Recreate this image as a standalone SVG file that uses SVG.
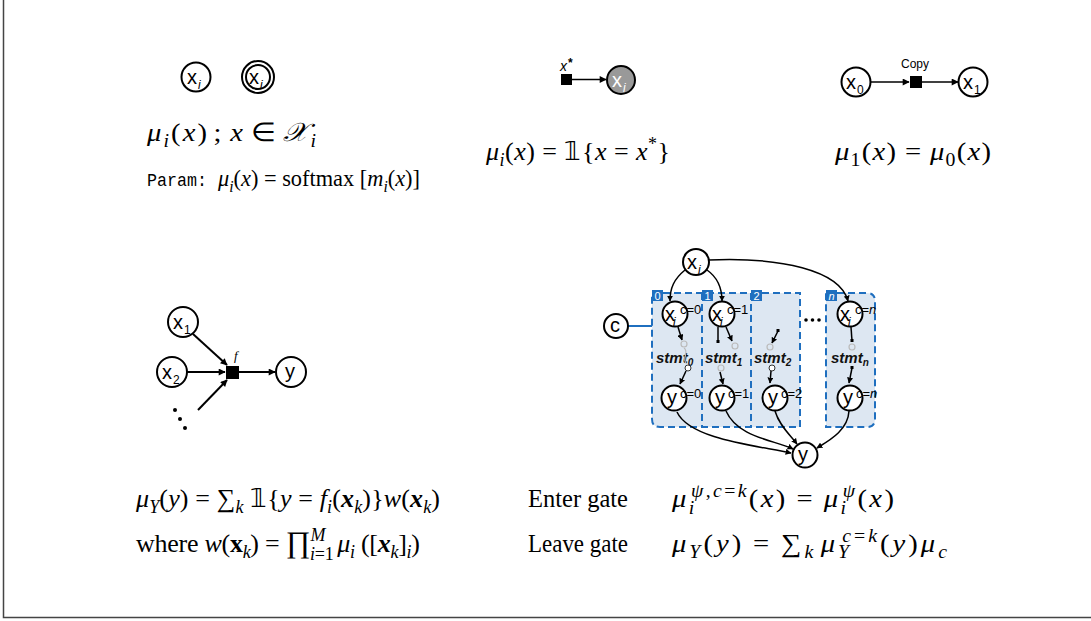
<svg xmlns="http://www.w3.org/2000/svg" width="1091" height="621" viewBox="0 0 1091 621">
<style>
.m{font-family:"Liberation Serif",serif;font-size:26px;fill:#000}
.i{font-style:italic}
.n{font-style:normal}
.b{font-weight:bold}
.s{font-size:18px}
.tt{font-family:"Liberation Mono",monospace;font-size:19px}
.nd{fill:#fff;stroke:#000;stroke-width:2}
.nl{font-family:"Liberation Sans",sans-serif;font-size:20px;fill:#000}
.ns{font-family:"Liberation Sans",sans-serif;font-size:12px;font-style:italic;fill:#000}
.sup{font-family:"Liberation Sans",sans-serif;font-size:12px;fill:#000}
.sp{font-family:"Liberation Sans",sans-serif;font-size:13px;fill:#000}
.ln{fill:none;stroke:#000;stroke-width:2}
.ln1{fill:none;stroke:#000;stroke-width:1.5}
.fa{fill:none;stroke:#bbb;stroke-width:1.2}
.box{fill:#dde7f2;stroke:none}
.dash{fill:none;stroke:#1f6fbf;stroke-width:2;stroke-dasharray:7 4}
.lab{fill:#1f6fbf}
.labt{font-family:"Liberation Sans",sans-serif;font-size:11px;fill:#fff}
.st{font-family:"Liberation Sans",sans-serif;font-size:15px;font-weight:bold;font-style:italic;fill:#111}
</style>
<defs>
<marker id="ar" viewBox="0 0 10 10" refX="9" refY="5" markerWidth="8" markerHeight="7" markerUnits="userSpaceOnUse" orient="auto"><path d="M0,0 L10,5 L0,10 z" fill="#000"/></marker>
<marker id="ar2" viewBox="0 0 10 10" refX="9" refY="5" markerWidth="6" markerHeight="6" markerUnits="userSpaceOnUse" orient="auto"><path d="M0,0 L10,5 L0,10 z" fill="#000"/></marker>
</defs>
<rect x="0" y="0" width="1091" height="621" fill="#fff"/>
<path d="M3.5,0 V617.5 H1091" fill="none" stroke="#444" stroke-width="1.5"/>

<!-- top-left -->
<g id="node-xi-plain"><circle class="nd" cx="196" cy="77" r="14.5"/><text class="nl" x="187" y="84">x</text><text class="ns" x="198" y="89">i</text></g>
<g id="node-xi-double"><circle class="nd" cx="258" cy="77" r="16"/><circle class="nd" cx="258" cy="77" r="12"/><text class="nl" x="249" y="84">x</text><text class="ns" x="260" y="89">i</text></g>
<text class="m" x="147" y="141" transform="matrix(1.1 0 0 1 -14.7 0)" textLength="153.6" lengthAdjust="spacing"><tspan class="i">μ</tspan><tspan class="i s" dy="6">i</tspan><tspan dy="-6">(</tspan><tspan class="i">x</tspan>)<tspan dx="4">;</tspan><tspan dx="6" class="i">x</tspan><tspan dx="5">∈</tspan><tspan dx="5" class="i">𝒳</tspan><tspan class="i s" dy="6">i</tspan></text>
<text class="tt" x="147" y="186" textLength="60" lengthAdjust="spacingAndGlyphs">Param:</text>
<text class="m" x="218" y="186" textLength="202" lengthAdjust="spacingAndGlyphs" style="font-size:23px"><tspan class="i">μ</tspan><tspan class="i" style="font-size:16px" dy="6">i</tspan><tspan dy="-6">(</tspan><tspan class="i">x</tspan>) = softmax [<tspan class="i">m</tspan><tspan class="i" style="font-size:16px" dy="6">i</tspan><tspan dy="-6">(</tspan><tspan class="i">x</tspan>)]</text>

<!-- top-middle -->
<g id="node-xstar"><rect x="561" y="74" width="11" height="11" fill="#000"/><text font-family="Liberation Sans,sans-serif" font-size="14" font-style="italic" x="560" y="71">x</text><text font-family="Liberation Sans,sans-serif" font-size="12" font-weight="bold" x="568" y="67">*</text></g>
<g id="node-xi-obs"><circle cx="621" cy="80" r="14" fill="#999" stroke="#000" stroke-width="2"/><text class="nl" x="612" y="87" style="fill:#fff">x</text><text class="ns" x="623" y="92" style="fill:#fff">i</text></g>
<text class="m" x="486" y="160" textLength="184" lengthAdjust="spacing"><tspan class="i">μ</tspan><tspan class="i s" dy="6">i</tspan><tspan dy="-6">(</tspan><tspan class="i">x</tspan>) = 𝟙{<tspan class="i">x</tspan> = <tspan class="i">x</tspan><tspan class="s" dy="-10">*</tspan><tspan dy="10">}</tspan></text>

<!-- top-right -->
<g id="node-x0"><circle class="nd" cx="856" cy="82" r="14.5"/><text class="nl" x="846" y="89">x</text><text class="sup" x="857" y="94">0</text></g>
<g id="node-copy"><rect x="910" y="76" width="12" height="12" fill="#000"/><text font-family="Liberation Sans,sans-serif" font-size="12" x="915" y="68" text-anchor="middle">Copy</text></g>
<g id="node-x1"><circle class="nd" cx="973" cy="82" r="14.5"/><text class="nl" x="963" y="89">x</text><text class="sup" x="974" y="94">1</text></g>
<text class="m" x="835" y="160" transform="matrix(1.1 0 0 1 -83.5 0)" textLength="141.8" lengthAdjust="spacing"><tspan class="i">μ</tspan><tspan class="s" dy="6">1</tspan><tspan dy="-6">(</tspan><tspan class="i">x</tspan>)<tspan dx="7">=</tspan><tspan dx="7" class="i">μ</tspan><tspan class="s" dy="6">0</tspan><tspan dy="-6">(</tspan><tspan class="i">x</tspan>)</text>

<!-- middle-left -->
<g id="node-mx1"><circle class="nd" cx="183" cy="322" r="15"/><text class="nl" x="173" y="329">x</text><text class="sup" x="184" y="334">1</text></g>
<g id="node-mx2"><circle class="nd" cx="172" cy="372" r="15"/><text class="nl" x="162" y="379">x</text><text class="sup" x="173" y="384">2</text></g>
<g id="node-f"><rect x="226" y="366" width="13" height="13" fill="#000"/><text font-family="Liberation Serif,serif" font-size="13" font-style="italic" x="234" y="360">f</text></g>
<g id="node-my"><circle class="nd" cx="291" cy="372" r="15"/><text class="nl" x="285" y="378">y</text></g>
<g id="dots-left" fill="#000"><circle cx="175" cy="410" r="2"/><circle cx="180" cy="419" r="2"/><circle cx="185" cy="428" r="2"/></g>

<!-- gate diagram -->
<g id="gate-boxes">
<path class="box" d="M652,293 H800 V427 H660 Q652,427 652,419 Z"/>
<path class="box" d="M826,293 H867 Q875,293 875,301 V419 Q875,427 867,427 H826 Z"/>
<path class="dash" d="M652,293 H800 V427 H660 Q652,427 652,419 Z"/>
<path class="dash" d="M702,293 V427 M751,293 V427"/>
<path class="dash" d="M826,293 H867 Q875,293 875,301 V419 Q875,427 867,427 H826 Z"/>
<rect class="lab" x="652" y="290" width="11" height="11"/><text class="labt" x="654.5" y="299.5">0</text>
<rect class="lab" x="702" y="290" width="11" height="11"/><text class="labt" x="704.5" y="299.5">1</text>
<rect class="lab" x="751" y="290" width="11" height="11"/><text class="labt" x="753.5" y="299.5">2</text>
<rect class="lab" x="826" y="290" width="11" height="11"/><text class="labt" x="828.5" y="299.5" font-style="italic">n</text>
</g>
<g id="node-c"><line x1="628" y1="326" x2="652" y2="326" stroke="#1f6fbf" stroke-width="2"/><circle class="nd" cx="616" cy="326" r="12"/><text class="nl" x="610" y="332">c</text></g>
<g id="node-gxi"><circle class="nd" cx="696" cy="262" r="13"/><text class="nl" x="687" y="269">x</text><text class="ns" x="698" y="274">i</text></g>
<g id="node-xc0"><circle class="nd" cx="675" cy="314" r="12.5"/><text class="nl" x="665" y="321">x</text><text class="ns" x="673" y="326">i</text><text class="sp" x="680" y="314">c=0</text></g>
<g id="node-xc1"><circle class="nd" cx="722" cy="314" r="12.5"/><text class="nl" x="712" y="321">x</text><text class="ns" x="720" y="326">i</text><text class="sp" x="727" y="314">c=1</text></g>
<g id="node-xcn"><circle class="nd" cx="850" cy="314" r="12.5"/><text class="nl" x="840" y="321">x</text><text class="ns" x="848" y="326">i</text><text class="sp" x="855" y="314">c=<tspan font-style="italic">n</tspan></text></g>
<g id="stmt-labels">
<text class="st" x="656" y="363">stmt<tspan font-size="10" dy="3">0</tspan></text>
<text class="st" x="705" y="363">stmt<tspan font-size="10" dy="3">1</tspan></text>
<text class="st" x="754" y="363">stmt<tspan font-size="10" dy="3">2</tspan></text>
<text class="st" x="831" y="363">stmt<tspan font-size="10" dy="3">n</tspan></text>
</g>
<g id="node-yc0"><circle class="nd" cx="674" cy="398" r="12.5"/><text class="nl" x="667" y="404">y</text><text class="sp" x="680" y="398">c=0</text></g>
<g id="node-yc1"><circle class="nd" cx="722" cy="398" r="12.5"/><text class="nl" x="715" y="404">y</text><text class="sp" x="728" y="398">c=1</text></g>
<g id="node-yc2"><circle class="nd" cx="775" cy="398" r="12.5"/><text class="nl" x="768" y="404">y</text><text class="sp" x="781" y="398">c=2</text></g>
<g id="node-ycn"><circle class="nd" cx="850" cy="398" r="12.5"/><text class="nl" x="843" y="404">y</text><text class="sp" x="856" y="398">c=<tspan font-style="italic">n</tspan></text></g>
<g id="node-gy"><circle class="nd" cx="805" cy="455" r="12.5"/><text class="nl" x="798" y="461">y</text></g>
<g id="dots-gate" fill="#000"><circle cx="806" cy="320" r="1.8"/><circle cx="812.5" cy="320" r="1.8"/><circle cx="819" cy="320" r="1.8"/></g>

<g id="connectors">
<line class="ln1" x1="572" y1="79.5" x2="606" y2="79.5" marker-end="url(#ar)"/>
<line class="ln1" x1="871" y1="82" x2="909" y2="82" marker-end="url(#ar)"/>
<line class="ln1" x1="922" y1="82" x2="958" y2="82" marker-end="url(#ar)"/>
<line class="ln" x1="193" y1="334" x2="227" y2="365" marker-end="url(#ar)"/>
<line class="ln" x1="187" y1="372" x2="225" y2="372" marker-end="url(#ar)"/>
<line class="ln" x1="239" y1="372" x2="275" y2="372" marker-end="url(#ar)"/>
<line class="ln" x1="198" y1="410" x2="227" y2="380" marker-end="url(#ar)"/>
<path class="ln1" d="M685,270 C674,279 670,288 670,301" marker-end="url(#ar2)"/>
<path class="ln1" d="M707,270 C717,277 722,288 722,301" marker-end="url(#ar2)"/>
<path class="ln1" d="M709,260 C780,257 840,270 848,301" marker-end="url(#ar2)"/>
<path class="ln1" d="M677,412 C690,440 760,446 791,453" marker-end="url(#ar2)"/>
<path class="ln1" d="M726,411 C738,438 775,440 793,449" marker-end="url(#ar2)"/>
<path class="ln1" d="M775,411 C779,425 790,435 797,444" marker-end="url(#ar2)"/>
<path class="ln1" d="M849,411 C848,430 830,440 817,448" marker-end="url(#ar2)"/>
<line class="ln1" x1="678" y1="327" x2="682" y2="340" marker-end="url(#ar2)"/>
<circle class="fa" cx="684" cy="344" r="3"/>
<circle cx="688" cy="368" r="3" fill="#fff" stroke="#333" stroke-width="1"/>
<path class="fa" d="M684,348 C690,352 680,360 688,365"/>
<line class="ln1" x1="686" y1="371" x2="680" y2="384" marker-end="url(#ar2)"/>
<line class="ln1" x1="718" y1="327" x2="718" y2="342"/><rect x="716.5" y="340" width="3" height="3" fill="#000"/>
<line class="ln1" x1="726" y1="327" x2="732" y2="341" marker-end="url(#ar2)"/>
<circle class="fa" cx="735" cy="346" r="3"/>
<circle class="fa" cx="721" cy="368" r="3"/>
<line class="ln1" x1="720" y1="372" x2="723" y2="384" marker-end="url(#ar2)"/>
<line class="ln1" x1="778" y1="331" x2="772" y2="343" marker-end="url(#ar2)"/><rect x="776.5" y="329" width="3" height="3" fill="#000"/>
<circle class="fa" cx="770" cy="347" r="3"/>
<circle cx="772" cy="368" r="3" fill="#fff" stroke="#333" stroke-width="1"/>
<line class="ln1" x1="771" y1="371" x2="770" y2="383" marker-end="url(#ar2)"/>
<line class="ln1" x1="851" y1="327" x2="852" y2="341"/><rect x="850.5" y="339" width="3" height="3" fill="#000"/>
<circle class="fa" cx="852" cy="347" r="3"/>
<line class="ln1" x1="852" y1="368" x2="849" y2="383" marker-end="url(#ar2)"/><rect x="850.5" y="366" width="3" height="3" fill="#000"/>
</g>

<!-- bottom formulas -->
<text class="m" x="136" y="507" textLength="304" lengthAdjust="spacing"><tspan class="i">μ</tspan><tspan class="i s" dy="6">Y</tspan><tspan dy="-6">(</tspan><tspan class="i">y</tspan>) = ∑<tspan class="i s" dy="6">k</tspan><tspan dy="-6"> 𝟙{</tspan><tspan class="i">y</tspan> = <tspan class="i">f</tspan><tspan class="i s" dy="6">i</tspan><tspan dy="-6">(</tspan><tspan class="i b">x</tspan><tspan class="i s" dy="6">k</tspan><tspan dy="-6">)}</tspan><tspan class="i">w</tspan>(<tspan class="i b">x</tspan><tspan class="i s" dy="6">k</tspan><tspan dy="-6">)</tspan></text>
<text class="m" x="136" y="552" textLength="284" lengthAdjust="spacing">where <tspan class="i">w</tspan>(<tspan class="b">x</tspan><tspan class="i s" dy="6">k</tspan><tspan dy="-6">) = </tspan><tspan font-size="30">∏</tspan><tspan class="s" dy="8"><tspan class="i">i</tspan>=1</tspan><tspan class="s i" dx="-23" dy="-19">M</tspan><tspan class="i" dy="11" dx="12">μ</tspan><tspan class="i s" dy="6">i</tspan><tspan dy="-6"> ([</tspan><tspan class="i b">x</tspan><tspan class="i s" dy="6">k</tspan><tspan dy="-6">]</tspan><tspan class="i s" dy="6">i</tspan><tspan dy="-6">)</tspan></text>

<text class="m" x="528" y="507" textLength="100" lengthAdjust="spacingAndGlyphs">Enter gate</text>
<text class="m" x="672" y="507" transform="matrix(1.1 0 0 1 -67.2 0)" textLength="201.8" lengthAdjust="spacing"><tspan class="i">μ</tspan><tspan class="i s" dy="7">i</tspan><tspan class="i s" dx="-5" dy="-17">ψ<tspan class="n">,</tspan>c<tspan class="n">=</tspan>k</tspan><tspan dy="10">(</tspan><tspan class="i">x</tspan>)<tspan dx="8">=</tspan><tspan dx="8" class="i">μ</tspan><tspan class="i s" dy="7">i</tspan><tspan class="i s" dx="-5" dy="-17">ψ</tspan><tspan dy="10">(</tspan><tspan class="i">x</tspan>)</text>

<text class="m" x="528" y="552" textLength="100" lengthAdjust="spacingAndGlyphs">Leave gate</text>
<text class="m" x="672" y="552" transform="matrix(1.1 0 0 1 -67.2 0)" textLength="250" lengthAdjust="spacing"><tspan class="i">μ</tspan><tspan class="i s" dy="6">Y</tspan><tspan dy="-6">(</tspan><tspan class="i">y</tspan>)<tspan dx="8">=</tspan><tspan dx="8">∑</tspan><tspan class="i s" dy="6">k</tspan><tspan dy="-6" dx="4" class="i">μ</tspan><tspan class="i s" dy="6">Y</tspan><tspan class="i s" dx="-9" dy="-16">c<tspan class="n">=</tspan>k</tspan><tspan dy="10">(</tspan><tspan class="i">y</tspan>)<tspan class="i">μ</tspan><tspan class="i s" dy="6">c</tspan></text>
</svg>
